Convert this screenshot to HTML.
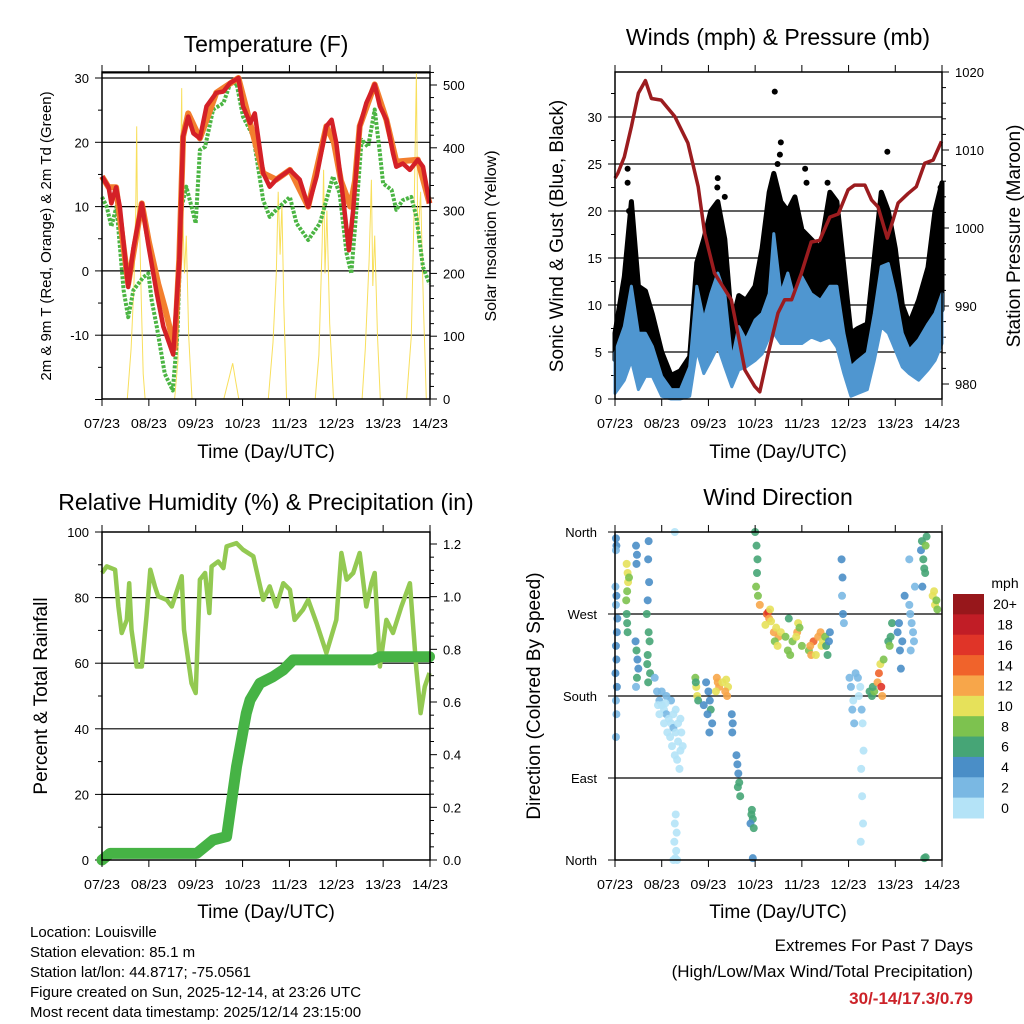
<!DOCTYPE html>
<html><head><meta charset="utf-8"><style>
html,body{margin:0;padding:0;background:#fff;}
svg{display:block;font-family:"Liberation Sans",sans-serif;}
</style></head><body>
<svg id="chart" width="1024" height="1024" viewBox="0 0 1024 1024">
<rect width="1024" height="1024" fill="#fff"/>
<text x="266" y="52" font-size="23" text-anchor="middle">Temperature (F)</text>
<text x="778" y="45" font-size="23" text-anchor="middle">Winds (mph) &amp; Pressure (mb)</text>
<text x="266" y="510" font-size="23" text-anchor="middle">Relative Humidity (%) &amp; Precipitation (in)</text>
<text x="778" y="505" font-size="23" text-anchor="middle">Wind Direction</text>
<text transform="translate(51,236) rotate(-90)" font-size="15" text-anchor="middle">2m &amp; 9m T (Red, Orange) &amp; 2m Td (Green)</text>
<text transform="translate(496,236) rotate(-90)" font-size="16" text-anchor="middle">Solar Insolation (Yellow)</text>
<text transform="translate(563,236) rotate(-90)" font-size="19" text-anchor="middle">Sonic Wind &amp; Gust (Blue, Black)</text>
<text transform="translate(1020,236) rotate(-90)" font-size="19" text-anchor="middle">Station Pressure (Maroon)</text>
<text transform="translate(47,696) rotate(-90)" font-size="19" text-anchor="middle">Percent &amp; Total Rainfall</text>
<text transform="translate(540,696) rotate(-90)" font-size="19" text-anchor="middle">Direction (Colored By Speed)</text>
<text x="266" y="458" font-size="19" text-anchor="middle">Time (Day/UTC)</text>
<text x="778" y="458" font-size="19" text-anchor="middle">Time (Day/UTC)</text>
<text x="266" y="918" font-size="19" text-anchor="middle">Time (Day/UTC)</text>
<text x="778" y="918" font-size="19" text-anchor="middle">Time (Day/UTC)</text>
<g font-size="15">
<text x="30" y="937">Location: Louisville</text>
<text x="30" y="957">Station elevation: 85.1 m</text>
<text x="30" y="977">Station lat/lon: 44.8717; -75.0561</text>
<text x="30" y="997">Figure created on Sun, 2025-12-14, at 23:26 UTC</text>
<text x="30" y="1017">Most recent data timestamp: 2025/12/14 23:15:00</text>
</g>
<text x="973" y="951" font-size="17" text-anchor="end">Extremes For Past 7 Days</text>
<text x="973" y="977" font-size="17" text-anchor="end">(High/Low/Max Wind/Total Precipitation)</text>
<text x="973" y="1004" font-size="17" font-weight="bold" fill="#cc2229" text-anchor="end">30/-14/17.3/0.79</text>
</svg>
<script>
const dayLabels=["07/23","08/23","09/23","10/23","11/23","12/23","13/23","14/23"];
// Temperature (F)
const redTime=[0,0.14,0.2,0.3,0.38,0.56,0.67,0.85,0.99,1.17,1.31,1.52,1.65,1.73,1.84,1.95,2.09,2.23,2.44,2.59,2.73,2.91,3.01,3.16,3.26,3.44,3.58,3.72,4.01,4.22,4.4,4.58,4.79,4.9,5.0,5.15,5.27,5.36,5.5,5.64,5.82,5.93,6.07,6.21,6.28,6.42,6.57,6.74,6.85,6.99];
const redTemp=[14.7,13,10.5,13,10,-2.5,3.5,10.5,4,-3.5,-8.7,-13,1.7,20.9,24,21.4,20.6,25.6,27.7,27.9,29.2,30,25.6,23,24.5,15.2,13.1,14.2,15.7,14.2,10,14.7,22.5,23.5,19.9,11,3.2,9.5,22.5,26.1,29,25.6,23.5,18.3,16.2,16.7,15.7,17.3,16.2,10.5];
const orangeTime=[0,0.14,0.3,0.56,0.85,1.0,1.2,1.35,1.55,1.65,1.73,1.84,2.09,2.44,2.91,3.16,3.44,3.72,4.01,4.4,4.79,4.95,5.1,5.2,5.3,5.4,5.5,5.82,6.07,6.28,6.74,6.99];
const orangeTemp=[14.7,13,13,-2,10.5,4.5,-2,-6,-12,2,20.9,24.5,20.6,27.7,30,23,15.2,14.2,15.7,10,22.5,20,14,12,10,14,22.5,29,23.5,17,17.3,10.5];
const tdTime=[0,0.1,0.2,0.31,0.46,0.56,0.67,0.88,0.99,1.06,1.17,1.34,1.51,1.61,1.7,1.8,1.91,2.0,2.09,2.2,2.37,2.59,2.73,2.87,3.01,3.23,3.44,3.58,3.72,4.01,4.15,4.4,4.65,4.93,5.07,5.22,5.32,5.43,5.54,5.68,5.82,5.93,6.0,6.18,6.28,6.42,6.6,6.71,6.85,6.99];
const tdTemp=[11.5,10,6.9,10,-3,-7.2,-3,-1,-0.4,-4.6,-8.7,-16,-18.6,-9.8,10,13.1,10,7.4,18.8,19.3,25.1,26.1,29,29.2,24,20.9,11,8.4,9.5,11.5,7.4,4.8,7.4,14.7,12.1,2.7,-0.4,9.5,20.4,19.3,25.1,18.3,13.6,12.6,9.5,11,11.5,8.4,0.6,-2];
const solarTime=[0,0.54,0.62,0.68,0.72,0.74,0.76,0.8,0.84,0.88,0.92,1.55,1.62,1.66,1.7,1.72,1.76,1.8,1.85,1.92,2.6,2.7,2.79,2.85,2.92,3.55,3.65,3.72,3.76,3.8,3.84,3.88,3.94,4.55,4.63,4.7,4.73,4.76,4.8,4.86,4.94,5.55,5.62,5.7,5.75,5.78,5.82,5.88,5.94,6.5,6.6,6.66,6.71,6.74,6.8,6.86,6.92,7];
const solarVal=[0,0,80,180,300,434,250,280,150,40,0,0,60,250,495,300,200,260,100,0,0,30,57,30,0,0,90,200,330,230,310,150,0,0,70,250,365,200,300,120,0,0,80,220,349,180,260,100,0,0,100,300,519,250,330,150,0,0];
// Winds
const windTime=[0,0.2,0.35,0.5,0.65,0.8,1.0,1.2,1.4,1.6,1.75,1.9,2.05,2.2,2.35,2.5,2.65,2.8,3.0,3.15,3.3,3.4,3.55,3.7,3.85,4.0,4.2,4.4,4.6,4.75,4.9,5.05,5.2,5.4,5.55,5.7,5.85,6.0,6.15,6.3,6.5,6.7,6.85,7.0];
const windHigh=[4.9,7.7,12,7,7,5.6,2.4,1,1,3.4,12,8.4,11.2,13.4,11.2,4.1,7.7,6.3,8.4,9.1,11.2,17.6,11.2,13.4,10.5,13,11.2,10.5,12,12,7,3.4,4.1,4.9,9.1,14.1,14.4,11.2,7,5.2,6.3,8,9.1,11.2];
const windLow=[0.6,2,4.1,1,2.4,2.4,0.3,0,0,0.3,5.2,2.7,4.1,5.6,3.4,1.3,3.1,3.4,4.1,4.8,6.6,7,5.9,5.9,5.9,5.9,6.6,6.2,6.6,5.5,2.7,0.3,0.6,1,4.1,7.7,7,5.2,3.4,2.7,2,3.1,4.1,5.9];
const gustHigh=[7,13,21,12,11.5,9,5,2.5,3,4.5,14.5,17,20,21,17,8,11,10.5,12,16,22,24,21,20,21.5,18,17,16,22,21,14,7,7.5,8,15,22,20,16,10,8,10.5,14,20,23];
const gustOutTime=[3.42,3.55,3.53,4.07,4.1,5.83,0.27,0.27,2.19,2.35,1.77,2.75,3.48,6.97,0.3,2.2,4.55,6.95];
const gustOutVal=[32.7,27.3,26,24.5,23,26.3,23,24.5,22.5,21.5,13.5,10,25,22.5,20,23.5,23,20.5];
const presTime=[0,0.06,0.2,0.35,0.5,0.65,0.78,0.99,1.28,1.56,1.78,1.92,2.13,2.31,2.49,2.63,2.78,2.99,3.1,3.28,3.49,3.63,3.78,3.99,4.2,4.38,4.6,4.78,4.99,5.13,5.35,5.49,5.63,5.83,5.95,6.06,6.27,6.45,6.63,6.81,6.99];
const presVal=[1006.4,1007,1009.1,1013,1017.3,1018.9,1016.6,1016.4,1014.3,1010.9,1005.3,999.3,994.2,992.5,990.8,986.5,981.8,979.7,979,983.9,989.1,990.8,990.8,994.2,998.2,998.4,1001.4,1001.8,1004.9,1005.5,1005.5,1003.6,1002.7,998.7,1001,1003.2,1004.4,1005.3,1008.3,1008.7,1011.1];
// Humidity / precip
const rhTime=[0,0.1,0.28,0.35,0.42,0.53,0.58,0.63,0.74,0.85,0.95,1.03,1.13,1.2,1.38,1.49,1.7,1.75,1.84,1.91,2.0,2.09,2.2,2.29,2.34,2.48,2.59,2.66,2.87,3.01,3.23,3.44,3.58,3.72,3.87,4.01,4.11,4.29,4.4,4.58,4.79,5.0,5.11,5.22,5.36,5.5,5.64,5.75,5.82,5.93,6.07,6.21,6.39,6.57,6.71,6.8,6.89,6.99];
const rhVal=[87.5,89.5,88.5,77.3,69.2,73.2,84.4,70.2,59,59,74.3,88.5,83.4,80.4,79.3,77.3,86.5,70.2,61,53.9,50.9,85.5,87.5,75.3,89.5,91,89,95.6,96.6,94.6,92.6,79.3,83.4,77.3,84.4,82.4,73.2,76.3,79.3,72.2,63.1,73.2,93.6,85.5,87.5,93.6,77.3,84.4,87.5,59,73.2,69.2,77.3,84.4,58,44.8,52.9,57];
const rainTime=[0,0.17,2.02,2.37,2.66,2.76,2.87,3.08,3.16,3.37,3.65,3.87,4.08,4.72,5.79,5.93,6.99];
const rainVal=[0,0.025,0.025,0.076,0.089,0.215,0.354,0.557,0.608,0.671,0.696,0.722,0.76,0.76,0.76,0.772,0.772];
// Wind direction observations: [day, degrees (0=N,90=E,180=S,270=W,360=N), speed mph]
const dirObs=[
[0.02,353,4],[0.03,345,4],[0.02,340,3],[0.01,300,3],[0.03,290,4],[0.02,280,3],[0.05,265,4],[0.04,250,4],[0.02,235,4],[0.03,220,4],[0.01,205,4],[0.04,190,4],[0.02,175,2],[0.03,160,2],[0.02,135,2],
[0.25,325,10],[0.27,315,10],[0.28,305,10],[0.3,310,9],[0.26,295,9],[0.24,285,8],[0.25,270,7],[0.26,260,7],[0.27,250,6],
[0.45,345,4],[0.47,335,4],[0.46,325,4],[0.44,240,4],[0.46,230,6],[0.48,220,5],[0.5,210,4],[0.47,200,6],[0.45,190,3],
[0.72,350,4],[0.71,330,4],[0.73,305,4],[0.7,285,4],[0.68,270,6],[0.72,250,6],[0.74,240,6],[0.7,225,6],[0.69,215,6],[0.75,205,7],[0.71,195,6],
[0.85,200,2],[0.9,185,3],[0.95,175,2],[1.0,170,1],[1.05,165,1],[1.1,160,2],[1.15,155,1],[1.2,150,1],[1.25,145,2],[1.3,140,1],[1.35,130,1],[1.4,120,1],[1.45,125,1],[0.95,160,1],[1.05,150,1],[1.12,140,0],[1.18,135,1],[1.22,125,1],[1.28,115,0],[1.33,110,1],[1.38,100,1],[1.42,140,1],[1.0,185,2],[1.1,180,3],[1.2,175,2],[1.3,165,1],[1.4,155,1],[0.92,170,1],[1.08,172,0],[1.25,160,0],[1.35,150,0],
[1.3,50,0],[1.28,40,0],[1.32,30,0],[1.27,20,0],[1.31,10,0],[1.29,2,0],[1.25,0,0],[1.33,0,0],[1.28,360,0],
[1.72,200,8],[1.74,190,10],[1.76,180,10],[1.78,175,7],[1.73,195,6],
[1.95,195,5],[2.0,185,5],[2.03,175,5],[2.05,165,7],[1.98,160,4],[2.08,150,4],[2.02,140,4],[1.9,170,4],
[2.18,200,12],[2.2,195,13],[2.23,190,12],[2.16,185,11],[2.38,198,11],[2.42,190,10],[2.36,185,12],[2.4,180,13],[2.3,195,10],
[2.5,160,4],[2.52,150,4],[2.51,140,4],
[2.6,115,4],[2.62,105,4],[2.64,95,5],[2.66,85,6],[2.63,80,7],[2.68,70,6],
[2.92,50,6],[2.95,45,6],[2.9,40,5],[2.97,35,7],[2.93,55,6],[2.95,2,4],
[3.0,360,6],[3.03,345,6],[3.05,330,7],[3.04,315,7],[3.02,300,8],[3.06,290,9],
[3.1,280,12],[3.25,270,15],[3.28,272,16],[3.3,265,13],[3.32,275,11],[3.34,262,10],[3.22,258,11],
[3.4,250,12],[3.45,255,10],[3.5,245,13],[3.42,240,9],[3.55,250,10],[3.48,235,11],
[3.65,245,9],[3.7,230,8],[3.75,225,9],[3.8,240,8],[3.72,265,7],
[3.9,250,12],[3.92,260,11],[3.88,245,10],[3.95,255,9],[4.0,235,8],
[4.15,230,9],[4.2,225,12],[4.25,240,14],[4.18,235,13],[4.3,225,11],
[4.35,245,12],[4.4,250,13],[4.45,240,11],[4.42,235,10],[4.5,245,8],
[4.55,225,6],[4.52,235,7],[4.58,240,5],[4.6,250,4],
[4.85,330,4],[4.87,310,4],[4.86,290,3],[4.88,270,4],[4.9,260,3],
[5.02,200,2],[5.05,190,2],[5.1,175,1],[5.08,165,2],[5.12,150,2],[5.15,205,3],[5.2,200,2],[5.25,190,1],[5.22,180,1],[5.28,165,2],[5.3,150,1],[5.32,120,1],[5.27,100,1],[5.29,70,1],[5.31,40,1],[5.26,20,1],
[5.45,185,6],[5.5,180,7],[5.55,185,8],[5.52,190,6],
[5.62,195,12],[5.65,205,15],[5.7,190,16],[5.72,180,13],[5.68,215,11],[5.75,220,9],
[5.85,240,7],[5.88,235,8],[5.9,245,7],[5.93,260,6],
[6.05,250,4],[6.1,230,4],[6.12,210,4],[6.15,240,4],[6.08,260,4],[6.2,290,4],
[6.3,280,3],[6.32,270,2],[6.35,260,3],[6.38,250,3],[6.4,240,2],[6.33,230,3],[6.42,300,3],[6.3,330,2],
[6.55,340,4],[6.57,350,6],[6.6,330,6],[6.62,320,7],[6.64,315,6],[6.58,300,4],[6.67,355,7],[6.65,345,8],
[6.8,290,10],[6.85,280,10],[6.88,285,9],[6.9,275,8],[6.83,295,11],
[6.62,2,6],[6.65,3,6]
];
const speedLabels=["20+","18","16","14","12","10","8","6","4","2","0"];
const speedColors=["#97171b","#c11d26","#e03428","#f0632b","#f7a64a","#e6e15a","#7dc24f","#46a576","#4a8ec7","#7ab8e3","#b4e3f7"];

const NS="http://www.w3.org/2000/svg";
const svg=document.getElementById('chart');
function mk(tag,attrs,parent){const e=document.createElementNS(NS,tag);for(const k in attrs)e.setAttribute(k,attrs[k]);(parent||svg).appendChild(e);return e;}
function txt(x,y,s,size,anchor,parent){const e=mk('text',{x:x,y:y,'font-size':size,'text-anchor':anchor||'middle'},parent);e.textContent=s;return e;}
function scale(d0,d1,r0,r1){return v=>r0+(v-d0)/(d1-d0)*(r1-r0);}
function pathOf(xs,ys,fx,fy){return xs.map((t,i)=>(i?'L':'M')+fx(t).toFixed(1)+','+fy(ys[i]).toFixed(1)).join('');}

function frame(g,L,R,T,B,fx,name){
  for(let d=0;d<=7;d++){
    const x=fx(d);
    mk('line',{x1:x,x2:x,y1:B,y2:B+7,stroke:'#000','stroke-width':1},g);
    mk('line',{x1:x,x2:x,y1:T,y2:T-7,stroke:'#000','stroke-width':1},g);
    const l=txt(x,B+29,dayLabels[d],13,'middle',g);
    l.setAttribute('textLength','36');l.setAttribute('lengthAdjust','spacingAndGlyphs');
    
    
  }
}
function border(g,L,R,T,B){mk('rect',{x:L,y:T,width:R-L,height:B-T,fill:'none',stroke:'#000','stroke-width':1.5},g);}
function hgrid(g,L,R,y){mk('line',{x1:L,x2:R,y1:y,y2:y,stroke:'#000','stroke-width':1.2},g);}

// ===== Panel 1: Temperature =====
(function(){
  const L=102,R=430,T=72,B=399;
  const g=mk('g',{});
  
  
  const fx=scale(0,7,L,R), fy=scale(-20,30,399.5,78), fs=scale(0,500,399,85);
  [30,20,10,0,-10].forEach(v=>{hgrid(g,L,R,fy(v));});
  mk('line',{x1:L,x2:R,y1:T+1,y2:T+1,stroke:'#000','stroke-width':1},g);
  for(let v=-20;v<=30;v+=5){const y=fy(v);mk('line',{x1:L,x2:L-(v%10===0?7:4),y1:y,y2:y,stroke:'#000'},g);}
  [30,20,10,0,-10].forEach(v=>{const t=txt(L-13,fy(v)+5,String(v),13,'end',g);});
  for(let v=0;v<=520;v+=20){const y=fs(v);if(y<T)continue;mk('line',{x1:R,x2:R+(v%100===0?7:4),y1:y,y2:y,stroke:'#000'},g);}
  [0,100,200,300,400,500].forEach(v=>{const t=txt(R+13,fs(v)+5,String(v),13,'start',g);});
  const sol=mk('path',{d:pathOf(solarTime,solarVal,fx,fs),fill:'none',stroke:'#f7dc4a','stroke-width':1,opacity:0.9},g);
  
  const td=mk('path',{d:pathOf(tdTime,tdTemp,fx,fy),fill:'none',stroke:'#4bb543','stroke-width':4,'stroke-dasharray':'3 1.5','stroke-linejoin':'round'},g);
  
  const or=mk('path',{d:pathOf(orangeTime,orangeTemp,fx,fy),fill:'none',stroke:'#f37f2e','stroke-width':6,'stroke-linejoin':'round'},g);
  
  const rd=mk('path',{d:pathOf(redTime,redTemp,fx,fy),fill:'none',stroke:'#d42027','stroke-width':4.5,'stroke-linejoin':'round'},g);
  
  border(g,L,R,T,B);frame(g,L,R,T,B,fx,'temp');
})();

// ===== Panel 2: Winds =====
(function(){
  const L=615,R=942,T=72,B=399;
  const g=mk('g',{});
  
  
  const fx=scale(0,7,L,R), fy=scale(0,30,399,117), fp=scale(980,1020,384,72);
  [30,25,20,15,10,5].forEach(v=>hgrid(g,L,R,fy(v)));
  for(let v=0;v<=35;v+=2.5){const y=fy(v);if(y<T)continue;mk('line',{x1:L,x2:L-(v%5===0?7:4),y1:y,y2:y,stroke:'#000'},g);}
  [0,5,10,15,20,25,30].forEach(v=>{const t=txt(L-13,fy(v)+5,String(v),13,'end',g);});
  for(let v=978;v<=1021;v+=2){const y=fp(v);if(y<T||y>B)continue;mk('line',{x1:R,x2:R+(v%10===0?7:4),y1:y,y2:y,stroke:'#000'},g);}
  [980,990,1000,1010,1020].forEach(v=>{const t=txt(R+13,fp(v)+5,String(v),13,'start',g);});
  const gb='M'+windTime.map((t,i)=>fx(t).toFixed(1)+','+fy(gustHigh[i]).toFixed(1)).join('L')+'L'+windTime.slice().reverse().map((t,j)=>{const i=windTime.length-1-j;return fx(t).toFixed(1)+','+fy(windHigh[i]*0.85).toFixed(1);}).join('L')+'Z';
  const gust=mk('path',{d:gb,fill:'#000',stroke:'#000','stroke-width':5,'stroke-linejoin':'round'},g);
  
  gustOutTime.forEach((t,i)=>{
    const c=mk('circle',{cx:fx(t),cy:fy(gustOutVal[i]),r:3,fill:'#000'},g);
    
    
  });
  const wb='M'+windTime.map((t,i)=>fx(t).toFixed(1)+','+fy(windHigh[i]).toFixed(1)).join('L')+'L'+windTime.slice().reverse().map((t,j)=>{const i=windTime.length-1-j;return fx(t).toFixed(1)+','+fy(windLow[i]).toFixed(1);}).join('L')+'Z';
  const wind=mk('path',{d:wb,fill:'#4f96d0',stroke:'#4f96d0','stroke-width':3,'stroke-linejoin':'round'},g);
  
  const pr=mk('path',{d:pathOf(presTime,presVal,fx,fp),fill:'none',stroke:'#9b1c1f','stroke-width':3.5,'stroke-linejoin':'round'},g);
  
  border(g,L,R,T,B);frame(g,L,R,T,B,fx,'wind');
})();

// ===== Panel 3: Humidity & Precip =====
(function(){
  const L=102,R=430,T=532,B=860;
  const g=mk('g',{});
  
  
  const fx=scale(0,7,L,R), fy=scale(0,100,860,532), fr=scale(0,1.2,860,544);
  [80,60,40,20].forEach(v=>hgrid(g,L,R,fy(v)));
  for(let v=0;v<=100;v+=10){const y=fy(v);mk('line',{x1:L,x2:L-(v%20===0?7:4),y1:y,y2:y,stroke:'#000'},g);}
  [0,20,40,60,80,100].forEach(v=>{const t=txt(L-13,fy(v)+5,String(v),13,'end',g);});
  for(let v=0;v<=1.24;v+=0.05){const y=fr(v);mk('line',{x1:R,x2:R+(Math.round(v*20)%4===0?7:4),y1:y,y2:y,stroke:'#000'},g);}
  ['0.0','0.2','0.4','0.6','0.8','1.0','1.2'].forEach(s=>{const t=txt(R+13,fr(+s)+5,s,13,'start',g);});
  const rh=mk('path',{d:pathOf(rhTime,rhVal,fx,fy),fill:'none',stroke:'#93c952','stroke-width':4.5,'stroke-linejoin':'round'},g);
  
  const rn=mk('path',{d:pathOf(rainTime,rainVal,fx,fr),fill:'none',stroke:'#46b345','stroke-width':11,'stroke-linejoin':'round','stroke-linecap':'round'},g);
  
  border(g,L,R,T,B);frame(g,L,R,T,B,fx,'rh');
})();

// ===== Panel 4: Wind Direction =====
(function(){
  const L=615,R=942,T=532,B=860;
  const g=mk('g',{});
  
  
  const fx=scale(0,7,L,R), fy=scale(0,360,860,532);
  [90,180,270].forEach(v=>hgrid(g,L,R,fy(v)));
  const names=['North','East','South','West','North'];
  [0,90,180,270,360].forEach((v,i)=>{
    mk('line',{x1:L,x2:L-7,y1:fy(v),y2:fy(v),stroke:'#000'},g);
    const t=txt(L-18,fy(v)+5,names[i],13,'end',g);
    
    
  });
  function col(s){let idx=Math.floor(s/2);if(idx>10)idx=10;return speedColors[10-idx];}
  dirObs.forEach(o=>{
    const c=mk('circle',{cx:fx(o[0]),cy:fy(o[1]),r:4,fill:col(o[2]),opacity:0.9},g);
    
    
  });
  border(g,L,R,T,B);frame(g,L,R,T,B,fx,'dir');
  const cb=mk('g',{});
  
  
  txt(1005,588,'mph',14,'middle',cb);
  const h=(818-594)/11;
  speedLabels.forEach((s,i)=>{
    const r=mk('rect',{x:953,y:594+i*h,width:31,height:h+0.5,fill:speedColors[i]},cb);
    
    
    txt(1005,594+i*h+h/2+5,s,14,'middle',cb);
  });
})();
</script>
</body></html>
